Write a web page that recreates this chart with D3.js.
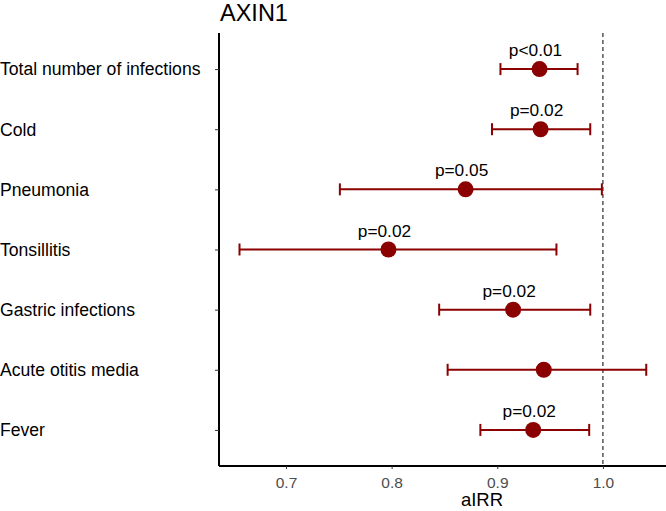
<!DOCTYPE html>
<html>
<head>
<meta charset="utf-8">
<script src="https://cdn.jsdelivr.net/npm/d3@7"></script>
<style>
  body { margin: 0; background: #fff; }
  text { font-family: "Liberation Sans", Arial, sans-serif; }
</style>
</head>
<body>
<div id="chart"></div>
<script>
const categories = ["Total number of infections", "Cold", "Pneumonia", "Tonsillitis",
  "Gastric infections", "Acute otitis media", "Fever"];
const estimates = [0.940, 0.941, 0.870, 0.797, 0.915, 0.944, 0.934];
const lower = [0.903, 0.895, 0.751, 0.656, 0.845, 0.853, 0.884];
const upper = [0.976, 0.988, 0.999, 0.956, 0.988, 1.041, 0.987];
const pLabels = ["p<0.01", "p=0.02", "p=0.05", "p=0.02", "p=0.02", "", "p=0.02"];
const xTicks = [0.7, 0.8, 0.9, 1.0];

main();

function main() {
  const width = 666;
  const height = 511;
  const margin = { top: 33, right: 0, bottom: 45, left: 219 };
  const red = "#8b0000";

  const svg = d3.select("#chart").append("svg")
    .attr("width", width)
    .attr("height", height);

  const x = d3.scaleLinear()
    .domain([0.6366, 1.0597])
    .range([margin.left, width - margin.right]);

  const y = d3.scalePoint()
    .domain(categories)
    .range([margin.top, height - margin.bottom])
    .padding(0.6);

  const rows = categories.map((c, i) => ({
    cat: c, est: estimates[i], lo: lower[i], hi: upper[i], p: pLabels[i]
  }));

  // reference line at 1
  svg.append("line")
    .attr("x1", x(1)).attr("x2", x(1))
    .attr("y1", margin.top).attr("y2", height - margin.bottom)
    .attr("stroke", "#000")
    .attr("stroke-width", 1)
    .attr("stroke-dasharray", "4,3");

  // axes
  const xAxis = svg.append("g")
    .attr("transform", `translate(0,${height - margin.bottom})`)
    .call(d3.axisBottom(x).tickValues(xTicks).tickFormat(d3.format(".1f")).tickSize(3).tickPadding(8));
  xAxis.select(".domain").attr("stroke", "#000").attr("stroke-width", 2)
    .attr("d", `M${margin.left},0H${width - margin.right}`);
  xAxis.selectAll(".tick line").attr("stroke", "#333");
  xAxis.selectAll("text").attr("font-size", 15.5).attr("fill", "#4d4d4d")
    .style("font-family", "Liberation Sans, Arial, sans-serif");

  const yAxis = svg.append("g")
    .attr("transform", `translate(${margin.left},0)`)
    .call(d3.axisLeft(y).tickSize(4).tickPadding(0).tickFormat(""));
  yAxis.select(".domain").attr("stroke", "#000").attr("stroke-width", 2)
    .attr("d", `M0,${margin.top}V${height - margin.bottom}`);
  yAxis.selectAll(".tick line").attr("stroke", "#333");

  // category labels
  svg.append("g").selectAll("text")
    .data(categories)
    .join("text")
    .attr("x", 0)
    .attr("y", d => y(d))
    .attr("dy", "0.36em")
    .attr("font-size", 17.6)
    .attr("fill", "#000")
    .text(d => d);

  // error bars
  const g = svg.append("g");
  g.selectAll(".bar")
    .data(rows)
    .join("line")
    .attr("x1", d => x(d.lo)).attr("x2", d => x(d.hi))
    .attr("y1", d => y(d.cat)).attr("y2", d => y(d.cat))
    .attr("stroke", red).attr("stroke-width", 2);
  g.selectAll(".capl")
    .data(rows)
    .join("line")
    .attr("x1", d => x(d.lo)).attr("x2", d => x(d.lo))
    .attr("y1", d => y(d.cat) - 6).attr("y2", d => y(d.cat) + 6)
    .attr("stroke", red).attr("stroke-width", 2);
  g.selectAll(".capr")
    .data(rows)
    .join("line")
    .attr("x1", d => x(d.hi)).attr("x2", d => x(d.hi))
    .attr("y1", d => y(d.cat) - 6).attr("y2", d => y(d.cat) + 6)
    .attr("stroke", red).attr("stroke-width", 2);
  g.selectAll("circle")
    .data(rows)
    .join("circle")
    .attr("cx", d => x(d.est))
    .attr("cy", d => y(d.cat))
    .attr("r", 8)
    .attr("fill", red);

  // p-value labels
  g.selectAll(".plab")
    .data(rows.filter(d => d.p))
    .join("text")
    .attr("x", d => x(d.est) - 4)
    .attr("y", d => y(d.cat) - 13)
    .attr("text-anchor", "middle")
    .attr("font-size", 17.3)
    .attr("fill", "#000")
    .text(d => d.p);

  // title and axis label
  svg.append("text")
    .attr("x", 220).attr("y", 21)
    .attr("font-size", 23.5)
    .text("AXIN1");

  svg.append("text")
    .attr("x", x(0.8855)).attr("y", 506)
    .attr("text-anchor", "middle")
    .attr("font-size", 18.5)
    .text("aIRR");
}
</script>
</body>
</html>
